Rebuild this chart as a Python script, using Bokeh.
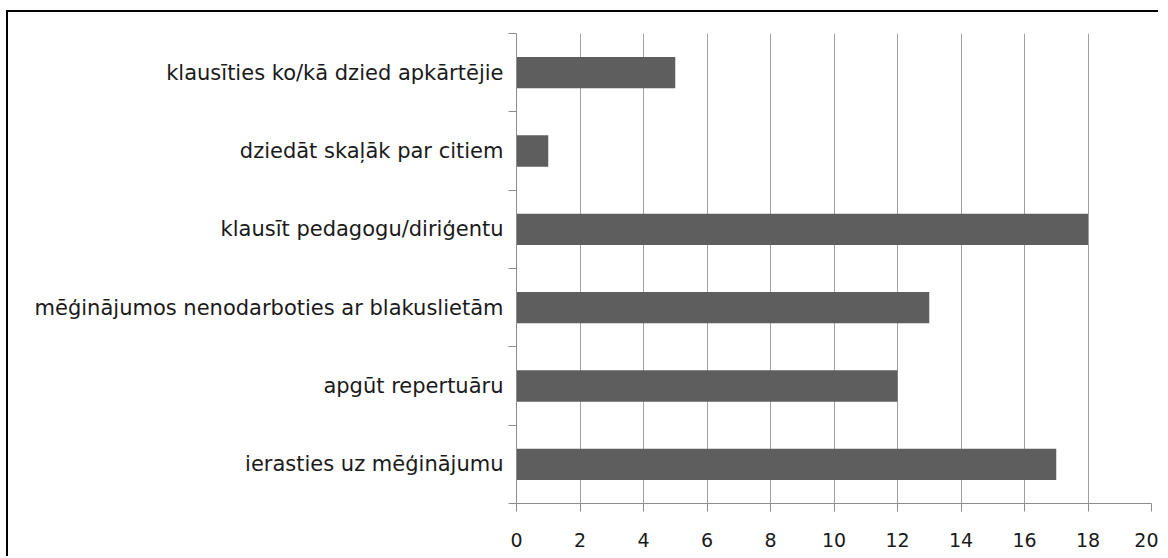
from bokeh.plotting import figure
from bokeh.models import FixedTicker, Range1d
from bokeh.embed import file_html
from bokeh.resources import INLINE

categories = [
    "ierasties uz mēģinājumu",
    "apgūt repertuāru",
    "mēģinājumos nenodarboties ar blakuslietām",
    "klausīt pedagogu/diriģentu",
    "dziedāt skaļāk par citiem",
    "klausīties ko/kā dzied apkārtējie",
]
values = [17, 12, 13, 18, 1, 5]
x_ticks = [0, 2, 4, 6, 8, 10, 12, 14, 16, 18, 20]

positions = [i + 0.5 for i in range(len(categories))]
boundaries = list(range(len(categories) + 1))

p = figure(
    width=1152, height=546,
    x_range=Range1d(0, 20), y_range=Range1d(0, len(categories)),
    output_backend="svg", toolbar_location=None,
    min_border_left=508, min_border_right=9, min_border_top=21, min_border_bottom=55,
    styles={"margin-left": "6px", "margin-top": "10px",
            "border-left": "2px solid black", "border-top": "2px solid black"},
)
p.outline_line_color = None
p.background_fill_color = "white"
p.border_fill_color = "white"

p.hbar(y=positions, right=values, left=0, height=0.4,
       fill_color="#5e5e5e", line_color=None)

# x axis
p.xaxis.ticker = FixedTicker(ticks=x_ticks, minor_ticks=[])
p.xaxis.axis_line_color = "#8c8c8c"
p.xaxis.major_tick_line_color = "#8c8c8c"
p.xaxis.major_tick_out = 8
p.xaxis.major_tick_in = 0
p.xaxis.major_label_standoff = 21
p.xaxis.major_label_text_font = "DejaVu Sans"
p.xaxis.major_label_text_font_size = "19px"
p.xaxis.major_label_text_color = "#1a1a1a"

# y axis
p.yaxis.ticker = FixedTicker(ticks=positions, minor_ticks=boundaries)
p.yaxis.major_label_overrides = {pos: c for pos, c in zip(positions, categories)}
p.yaxis.axis_line_color = "#8c8c8c"
p.yaxis.major_tick_line_color = None
p.yaxis.major_tick_out = 0
p.yaxis.major_tick_in = 0
p.yaxis.minor_tick_line_color = "#8c8c8c"
p.yaxis.minor_tick_out = 8
p.yaxis.minor_tick_in = 0
p.yaxis.major_label_standoff = 5
p.yaxis.major_label_text_font = "DejaVu Sans"
p.yaxis.major_label_text_font_size = "21px"
p.yaxis.major_label_text_color = "#1a1a1a"

p.ygrid.visible = False
p.xgrid.ticker = FixedTicker(ticks=x_ticks)
p.xgrid.grid_line_color = "#a0a0a0"
p.xgrid.grid_line_width = 1

open("out.html", "w").write(file_html(p, INLINE))
